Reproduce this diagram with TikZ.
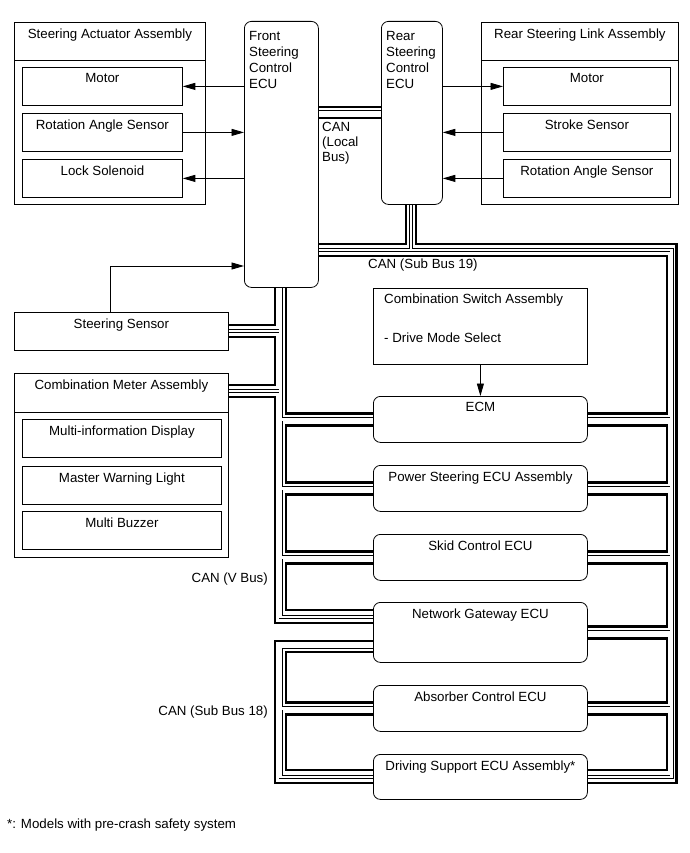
\documentclass[tikz,border=0pt]{standalone}
\usepackage{fontspec}
\setmainfont{Liberation Sans}
\usetikzlibrary{arrows.meta}

\tikzset{
  box/.style={draw, line width=0.8pt, inner sep=0pt, anchor=north west},
  ecu/.style={box, rounded corners=7pt},
  hd/.style={label={[anchor=north, inner sep=0pt, yshift=-6.5pt]north:#1}},
  ecutxt/.style={label={[anchor=north west, align=left, inner sep=0pt, xshift=5pt, yshift=-10.5pt,
      font=\fontsize{13.3}{16}\selectfont]north west:#1}},
  sig/.style={line width=0.9pt, -{Triangle[length=12.5pt,width=7pt]}},
  canh/.style={line width=2.8pt},
  canl/.style={double, line width=0.8pt, double distance=2.4pt},
}

\begin{document}
\begin{tikzpicture}[x=1pt,y=-1pt,font=\fontsize{13.3}{16.5}\selectfont]
\useasboundingbox (0,0) rectangle (689,853);
\def\xVo{275}\def\xD{280.5}\def\xSi{286}
\def\xRi{667}\def\xRd{671.5}\def\xRo{676.5}

% steering actuator assembly
\node[box, minimum width=191pt, minimum height=182pt, hd={Steering Actuator Assembly}] (saa) at (14,22) {};
\draw[line width=0.8pt] (saa.west |- 0,60) -- (saa.east |- 0,60);
\node[box, minimum width=160pt, minimum height=38pt, hd=Motor] (sam) at (22,67) {};
\node[box, minimum width=160pt, minimum height=38pt, hd={Rotation Angle Sensor}] (sar) at (22,113) {};
\node[box, minimum width=160pt, minimum height=38pt, hd={Lock Solenoid}] (sal) at (22,159) {};

% ECUs at top
\node[ecu, minimum width=74pt, minimum height=266pt, ecutxt={Front\\Steering\\Control\\ECU}] (fecu) at (244,21) {};
\node[ecu, minimum width=61pt, minimum height=183pt, ecutxt={Rear\\Steering\\Control\\ECU}] (recu) at (381,21) {};

% rear steering link assembly
\node[box, minimum width=197pt, minimum height=182pt, hd={Rear Steering Link Assembly}] (rsl) at (481,22) {};
\draw[line width=0.8pt] (rsl.west |- 0,60) -- (rsl.east |- 0,60);
\node[box, minimum width=167pt, minimum height=38pt, hd=Motor] (rsm) at (503,67) {};
\node[box, minimum width=167pt, minimum height=38pt, hd={Stroke Sensor}] (rss) at (503,113) {};
\node[box, minimum width=167pt, minimum height=38pt, hd={Rotation Angle Sensor}] (rsr) at (503,159) {};

% left column
\node[box, minimum width=214pt, minimum height=38pt, hd={Steering Sensor}] (ss) at (14,312) {};
\node[box, minimum width=214pt, minimum height=184pt, hd={Combination Meter Assembly}] (cma) at (14,373) {};
\draw[line width=0.8pt] (cma.west |- 0,412) -- (cma.east |- 0,412);
\node[box, minimum width=199pt, minimum height=38pt, hd={Multi-information Display}] (mid) at (22,419) {};
\node[box, minimum width=199pt, minimum height=38pt, hd={Master Warning Light}] (mwl) at (22,466) {};
\node[box, minimum width=199pt, minimum height=38pt, hd={Multi Buzzer}] (mbz) at (22,511) {};

% centre column
\node[box, minimum width=214pt, minimum height=76pt] (csa) at (373,288) {};
\node[anchor=north west, align=left, inner sep=0pt] (csatxt) at (384,294)
  {Combination Switch Assembly\\[22.5pt]- Drive Mode Select};
\node[ecu, minimum width=214pt, minimum height=46pt, hd=ECM] (ecm) at (373,396) {};
\node[ecu, minimum width=214pt, minimum height=46pt, hd={Power Steering ECU Assembly}] (ps) at (373,465) {};
\node[ecu, minimum width=214pt, minimum height=46pt, hd={Skid Control ECU}] (skid) at (373,534) {};
\node[ecu, minimum width=214pt, minimum height=60pt, hd={Network Gateway ECU}] (ngw) at (373,602) {};
\node[ecu, minimum width=214pt, minimum height=46pt, hd={Absorber Control ECU}] (abs) at (373,685) {};
\node[ecu, minimum width=214pt, minimum height=45pt, hd={Driving Support ECU Assembly*}] (dsa) at (373,754) {};

% signal lines
\draw[sig] (fecu.west |- sam.east) -- (sam.east);
\draw[sig] (sar.east) -- (fecu.west |- sar.east);
\draw[sig] (fecu.west |- sal.east) -- (sal.east);
\draw[sig] (ss.north -| 110,0) |- (fecu.west |- 0,266);
\draw[sig] (recu.east |- rsm.west) -- (rsm.west);
\draw[sig] (rss.west) -- (recu.east |- rss.west);
\draw[sig] (rsr.west) -- (recu.east |- rsr.west);
\draw[sig] (csa.south) -- (ecm.north);

% CAN local bus
\draw[canh] (fecu.east |- 0,107) -- (recu.west |- 0,107);
\draw[canl] (fecu.east |- 0,112.5) -- (recu.west |- 0,112.5);
\draw[canh] (fecu.east |- 0,118) -- (recu.west |- 0,118);

% CAN sub bus 19, top and right side
\draw[canh] (fecu.east |- 0,244) -| (recu.south -| 406,0);
\draw[canh] (recu.south -| 416,0) |- (\xRo,244) -- (\xRo,783) -- (dsa.east |- 0,783);
\draw[canl] (fecu.east |- 0,250) -| (\xRd,777) -- (dsa.east |- 0,777)
  (411,250) -- (recu.south -| 411,0)
  (\xRd,0 |- ecm.east) -- (ecm.east) (\xRd,0 |- ps.east) -- (ps.east)
  (\xRd,0 |- skid.east) -- (skid.east) (\xRd,0 |- ngw.east) -- (ngw.east)
  (\xRd,0 |- abs.east) -- (abs.east);
\draw[canh] (fecu.east |- 0,256) -| ([yshift=6pt]ecm.east -| \xRi,0) -- ([yshift=6pt]ecm.east);
\foreach \a/\b in {ecm/ps,ps/skid,skid/ngw,ngw/abs}
  \draw[canh] ([yshift=-6pt]\a.east) -| ([yshift=6pt]\b.east -| \xRi,0) -- ([yshift=6pt]\b.east);
\draw[canh] ([yshift=-6pt]abs.east) -| (\xRi,770) -- (dsa.east |- 0,770);

% CAN sub bus 19 and V bus, left side
\draw[canh] (fecu.south -| \xSi,0) |- ([yshift=6pt]ecm.west);
\foreach \a/\b in {ecm/ps,ps/skid}
  \draw[canh] ([yshift=-6pt]\a.west) -| ([yshift=6pt]\b.west -| \xSi,0) -- ([yshift=6pt]\b.west);
\draw[canh] ([yshift=-6pt]skid.west) -| (\xSi,610) -- (ngw.west |- 0,610);
\draw[canl] (fecu.south -| \xD,0) |- (ngw.west |- 0,617)
  (\xD,331) -- (ss.east |- 0,331) (\xD,391) -- (cma.east |- 0,391)
  (\xD,0 |- ecm.west) -- (ecm.west) (\xD,0 |- ps.west) -- (ps.west)
  (\xD,0 |- skid.west) -- (skid.west);
\draw[canh] (fecu.south -| \xVo,0) |- (ss.east |- 0,325);
\draw[canh] (ss.east |- 0,337) -| (\xVo,385) -- (cma.east |- 0,385);
\draw[canh] (cma.east |- 0,397) -| (\xVo,623) -- (ngw.west |- 0,623);

% CAN sub bus 18, left side
\draw[canh] (ngw.west |- 0,641) -| (\xVo,783) -- (dsa.west |- 0,783);
\draw[canl] (ngw.west |- 0,646.5) -| (\xD,777) -- (dsa.west |- 0,777)
  (\xD,0 |- abs.west) -- (abs.west);
\draw[canh] (ngw.west |- 0,652) -| ([yshift=6pt]abs.west -| \xSi,0) -- ([yshift=6pt]abs.west);
\draw[canh] ([yshift=-6pt]abs.west) -| (\xSi,770) -- (dsa.west |- 0,770);

% bus names
\node[anchor=north west, align=left, inner sep=0pt, font=\fontsize{13.3}{15}\selectfont] (lbl) at (322,122) {CAN\\(Local\\Bus)};
\node[anchor=base west, inner sep=0pt] (sb19) at (368,268) {CAN (Sub Bus 19)};
\node[anchor=base east, inner sep=0pt] (vbus) at (268,582) {CAN (V Bus)};
\node[anchor=base east, inner sep=0pt] (sb18) at (268,715) {CAN (Sub Bus 18)};
\node[anchor=base west, inner sep=0pt] (note) at (7,828) {*: Models with pre-crash safety system};
\end{tikzpicture}
\end{document}
